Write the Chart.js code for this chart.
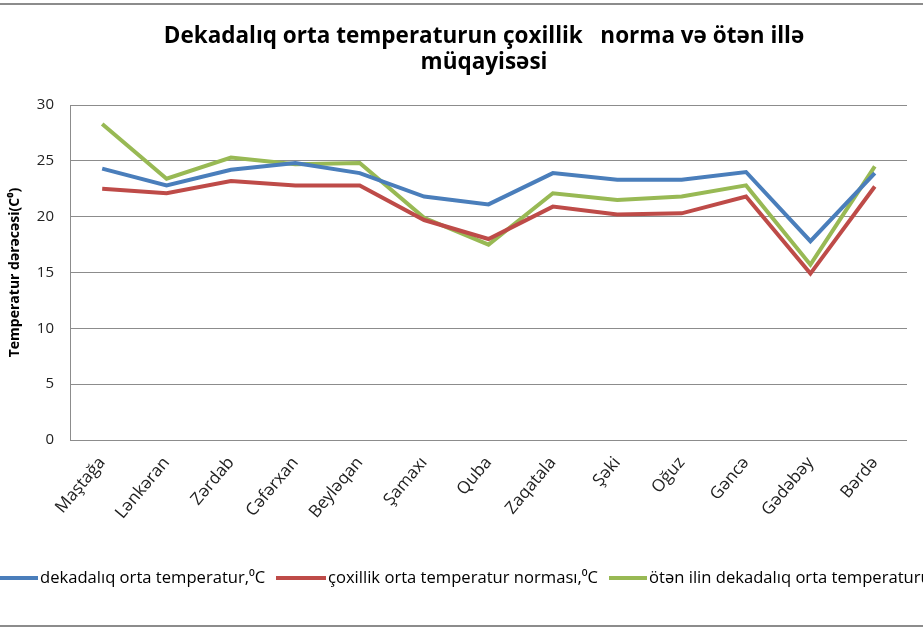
<!DOCTYPE html>
<html>
<head>
<meta charset="utf-8">
<script src="https://cdn.jsdelivr.net/npm/chart.js@4.4.1/dist/chart.umd.min.js"></script>
<style>
    html, body { margin: 0; padding: 0; background: #fff; overflow: hidden; }
    #wrap { width: 923px; height: 630px; }
</style>
</head>
<body>
<div id="wrap"><canvas id="tempChart" width="923" height="630"></canvas></div>
<script>
// Chart data
const stations = ['Maştağa', 'Lənkəran', 'Zərdab', 'Cəfərxan', 'Beyləqan', 'Şamaxı', 'Quba',
    'Zaqatala', 'Şəki', 'Oğuz', 'Gəncə', 'Gədəbəy', 'Bərdə'];
const decadeTemp = [24.3, 22.8, 24.2, 24.8, 23.9, 21.8, 21.1, 23.9, 23.3, 23.3, 24.0, 17.8, 23.9];
const normTemp = [22.5, 22.1, 23.2, 22.8, 22.8, 19.7, 18.0, 20.9, 20.2, 20.3, 21.8, 14.9, 22.7];
const lastYearTemp = [28.3, 23.4, 25.3, 24.7, 24.8, 19.9, 17.5, 22.1, 21.5, 21.8, 22.8, 15.7, 24.5];
const yTicks = [0, 5, 10, 15, 20, 25, 30];

const titleLines = ['Dekadalıq orta temperaturun çoxillik   norma və ötən illə', 'müqayisəsi'];
const seriesNames = ['dekadalıq orta temperatur,⁰C', 'çoxillik orta temperatur norması,⁰C',
    'ötən ilin dekadalıq orta temperaturu,⁰C'];
const seriesColors = ['#4A7EBB', '#BE4B48', '#98B954'];

const fontFamily = "'Open Sans', 'DejaVu Sans', sans-serif";

// Title, legend and frame drawn by hand (legend runs off the edges like the original)
const decorPlugin = {
    id: 'decor',
    afterDraw(chart) {
        const ctx = chart.ctx;
        ctx.save();

        // outer frame lines
        ctx.strokeStyle = '#8c8c8c';
        ctx.lineWidth = 2;
        ctx.beginPath();
        ctx.moveTo(0, 4); ctx.lineTo(923, 4);
        ctx.moveTo(0, 626); ctx.lineTo(923, 626);
        ctx.stroke();

        // title
        ctx.fillStyle = '#000';
        ctx.font = 'bold 22.5px ' + fontFamily;
        ctx.textAlign = 'center';
        ctx.textBaseline = 'middle';
        ctx.fillText(titleLines[0], 484, 37);
        ctx.fillText(titleLines[1], 484, 63);

        // legend
        ctx.font = '16.6px ' + fontFamily;
        ctx.textAlign = 'left';
        const legendY = 578;
        const markers = [[0, 38], [276, 326], [609, 647]];
        chart.data.datasets.forEach((ds, i) => {
            ctx.strokeStyle = ds.borderColor;
            ctx.lineWidth = 4;
            ctx.beginPath();
            ctx.moveTo(markers[i][0], legendY);
            ctx.lineTo(markers[i][1], legendY);
            ctx.stroke();
            ctx.fillStyle = '#000';
            ctx.fillText(ds.label, markers[i][1] + 2, legendY);
        });
        ctx.restore();
    }
};

new Chart(document.getElementById('tempChart'), {
    type: 'line',
    data: {
        labels: stations,
        datasets: [decadeTemp, normTemp, lastYearTemp].map((values, i) => ({
            label: seriesNames[i],
            data: values,
            borderColor: seriesColors[i],
            backgroundColor: seriesColors[i],
            borderWidth: 4,
            pointRadius: 0,
            tension: 0,
            fill: false
        }))
    },
    options: {
        responsive: false,
        animation: false,
        layout: {
            padding: { top: 105, right: 16, left: 0, bottom: 0 }
        },
        plugins: {
            legend: { display: false },
            title: { display: false },
            tooltip: { enabled: false }
        },
        scales: {
            x: {
                offset: true,
                grid: { display: false, drawTicks: false },
                border: { display: false },
                ticks: {
                    autoSkip: false,
                    minRotation: 50,
                    maxRotation: 50,
                    padding: 13,
                    color: '#222',
                    font: { family: fontFamily, size: 17 }
                },
                afterFit: function (scale) {
                    scale.height = 190;
                }
            },
            y: {
                min: 0,
                max: 30,
                afterBuildTicks: function (scale) {
                    scale.ticks = yTicks.map(v => ({ value: v }));
                },
                grid: { color: '#8c8c8c', lineWidth: 1, drawTicks: false },
                border: { display: true, color: '#8c8c8c', width: 1 },
                ticks: {
                    padding: 16,
                    color: '#222',
                    font: { family: fontFamily, size: 15 }
                },
                title: {
                    display: true,
                    text: 'Temperatur dərəcəsi(C⁰)',
                    color: '#000',
                    padding: { top: 7, bottom: 0 },
                    font: { family: fontFamily, size: 14, weight: 'bold' }
                },
                afterFit: function (scale) {
                    scale.width = 70;
                }
            }
        }
    },
    plugins: [decorPlugin]
});
</script>
</body>
</html>
